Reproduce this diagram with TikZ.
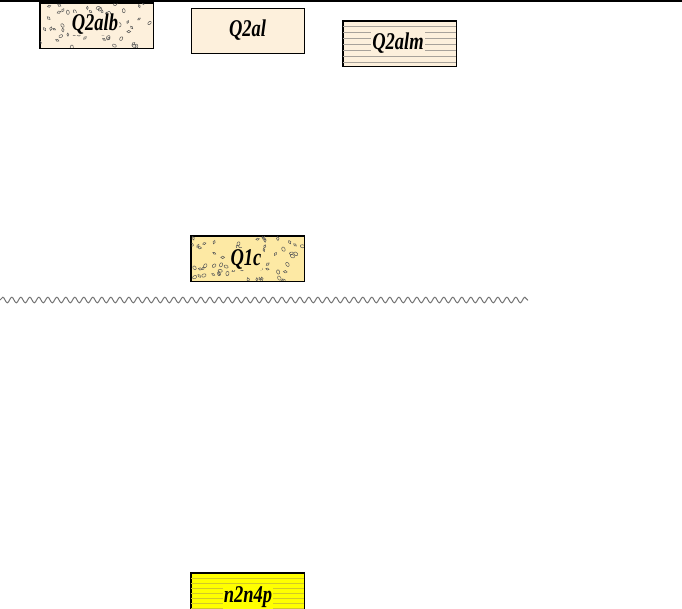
\documentclass[tikz,border=0pt]{standalone}
\usepackage{fontspec}
\setmainfont{Liberation Serif}
\usetikzlibrary{decorations.pathmorphing}
\definecolor{beige}{HTML}{FDF0DC}
\definecolor{sandy}{HTML}{FDE9A4}
\definecolor{brightyellow}{HTML}{FFFF00}
\definecolor{stripegray}{HTML}{A8A29A}
\definecolor{stripeyellow}{HTML}{D2C828}
\newcommand\mypebbles[5]{%
  \begin{scope}
  \clip (#1,#2) rectangle (#3,#4);
  \foreach \k in {1,...,#5}{
    \pgfmathsetmacro\px{#1+rnd*(#3-#1)}
    \pgfmathsetmacro\py{#2+rnd*(#4-#2)}
    \pgfmathsetmacro\rr{rnd*180}
    \pgfmathsetmacro\ra{0.9+rnd*0.7}
    \draw[pebble, rotate around={\rr:(\px,\py)}] (\px,\py) ellipse ({\ra pt} and {\ra pt+0.7pt});
  }
  \end{scope}}
\newcommand\mystripes[6]{% x0,y0,x1,y1,second,colour
  \begin{scope}
  \clip (#1,#2) rectangle (#3,#4);
  \foreach \yy in {#2,#5,...,#4}{
    \draw[#6, line width=0.7pt] (#1,\yy) -- (#3,\yy);
  }
  \end{scope}}
\tikzset{
  unitbox/.style={draw=black, line width=0.9pt, minimum width=113pt, minimum height=45pt, inner sep=0pt},
  unitlabel/.style={inner sep=1pt, font=\fontsize{18.5}{20}\selectfont\bfseries\itshape},
  pebble/.style={draw=black!65, line width=0.5pt},
}
\newcommand\lbl[1]{\scalebox{1}[1.3]{#1}}
\begin{document}
\begin{tikzpicture}[x=1pt,y=-1pt]
\useasboundingbox (0,0) rectangle (682,608);
% top rule
\coordinate (tl) at (0,0.8);
\coordinate (tr) at (682,0.8);
\draw[line width=1.6pt] (tl) -- (tr);

% Q2alb
\node[unitbox, fill=beige] (q2alb) at (96.5,25.5) {};
\pgfmathsetseed{11}
\mypebbles{40}{3}{153}{48}{55}
\node[unitlabel, fill=beige] (q2albt) at (95,24) {\lbl{Q2alb}};
\draw[line width=0.9pt] (q2alb.north west) rectangle (q2alb.south east);

% Q2al
\node[unitbox, fill=beige] (q2al) at (247.5,30.5) {};
\node[unitlabel] (q2alt) at (q2al) {\lbl{Q2al}};

% Q2alm
\node[unitbox, fill=beige] (q2alm) at (399.5,43.5) {};
\mystripes{343}{26}{456}{66}{32}{stripegray}
\node[unitlabel, fill=beige] (q2almt) at (398,43) {\lbl{Q2alm}};
\draw[line width=0.9pt] (q2alm.north west) rectangle (q2alm.south east);

% Q1c
\node[unitbox, fill=sandy] (q1c) at (247.5,258.5) {};
\pgfmathsetseed{7}
\mypebbles{191}{236}{304}{281}{60}
\node[unitlabel, fill=sandy] (q1ct) at (246,259) {\lbl{Q1c}};
\draw[line width=0.9pt] (q1c.north west) rectangle (q1c.south east);

% unconformity
\coordinate (wl) at (0,300);
\coordinate (wr) at (528,300);
\draw[black!55, line width=1pt, decorate, decoration={snake, segment length=9pt, amplitude=2.8pt}] (wl) -- (wr);

% n2n4p
\node[unitbox, fill=brightyellow] (n2n4p) at (247.5,595.5) {};
\mystripes{191}{578}{304}{618}{583}{stripeyellow}
\node[unitlabel, fill=brightyellow] (n2n4pt) at (248,597) {\lbl{n2n4p}};
\draw[line width=0.9pt] (n2n4p.north west) rectangle (n2n4p.south east);
\end{tikzpicture}
\end{document}
